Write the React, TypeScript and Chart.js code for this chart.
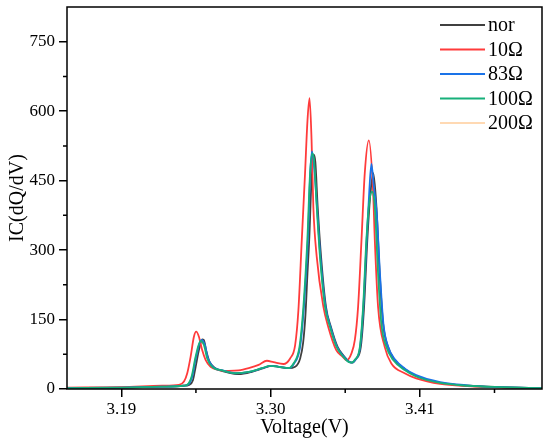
import React, { useEffect, useRef } from "react";
import Chart from "chart.js/auto";

// voltage (V) and IC (dQ/dV), one pair of arrays per curve
const norV = [3.150, 3.190, 3.220, 3.236, 3.2399, 3.2428, 3.2448, 3.2472, 3.2496, 3.2508, 3.2525, 3.2550, 3.2594, 3.2667, 3.2765, 3.2863, 3.2949, 3.3010, 3.3059, 3.3132, 3.3181, 3.3218, 3.3240, 3.3257, 3.3272, 3.3286, 3.3300, 3.3318, 3.3330, 3.3347, 3.3372, 3.3408, 3.3445, 3.3494, 3.3543, 3.3579, 3.3603, 3.3630, 3.3665, 3.3689, 3.3713, 3.3735, 3.3757, 3.3780, 3.3804, 3.3829, 3.3865, 3.3914, 3.3988, 3.4073, 3.4250, 3.4450, 3.4700, 3.5000];
const norIC = [2, 3, 5, 7, 9, 19, 48, 84, 107, 106, 84, 59, 45, 37, 32, 37, 45, 50, 48, 45, 48, 66, 100, 160, 250, 330, 440, 506, 490, 394, 286, 178, 134, 91, 70, 59, 57, 65, 91, 178, 322, 420, 466, 394, 250, 142, 91, 63, 43, 28, 13, 7, 4, 2];

const r10V = [3.150, 3.190, 3.220, 3.2325, 3.2362, 3.2386, 3.2411, 3.2435, 3.2452, 3.2472, 3.2496, 3.2521, 3.2558, 3.2619, 3.2692, 3.2765, 3.2839, 3.2912, 3.2973, 3.3022, 3.3095, 3.3144, 3.3181, 3.3205, 3.3230, 3.3254, 3.3272, 3.3287, 3.3302, 3.3315, 3.3340, 3.3389, 3.3425, 3.3484, 3.3530, 3.3560, 3.3596, 3.3621, 3.3645, 3.3670, 3.3694, 3.3724, 3.3755, 3.3768, 3.3792, 3.3841, 3.3890, 3.3988, 3.4073, 3.4250, 3.4450, 3.4700, 3.5000];
const r10IC = [3, 4, 7, 9, 16, 34, 70, 113, 124, 113, 84, 63, 48, 41, 39, 40, 45, 52, 61, 58, 54, 66, 95, 170, 322, 466, 580, 628, 538, 394, 286, 178, 134, 84, 70, 62, 77, 106, 178, 322, 466, 537, 430, 322, 178, 91, 55, 34, 23, 11, 6, 3, 2];

const r83V = [3.150, 3.190, 3.220, 3.236, 3.2390, 3.2422, 3.2452, 3.2490, 3.2514, 3.2538, 3.2575, 3.2648, 3.2745, 3.2843, 3.2940, 3.3003, 3.3063, 3.3136, 3.3173, 3.3217, 3.3246, 3.3275, 3.3293, 3.3305, 3.3318, 3.3342, 3.3367, 3.3405, 3.3442, 3.3490, 3.3540, 3.3576, 3.3600, 3.3625, 3.3660, 3.3684, 3.3708, 3.3728, 3.3743, 3.3760, 3.3782, 3.3806, 3.3831, 3.3867, 3.3916, 3.3990, 3.4073, 3.4250, 3.4450, 3.4700, 3.5000];
const r83IC = [2, 3, 5, 7, 9, 26, 70, 106, 97, 67, 48, 40, 34, 37, 45, 50, 48, 45, 55, 90, 178, 322, 470, 513, 490, 394, 286, 178, 134, 91, 70, 59, 57, 63, 91, 178, 322, 430, 486, 440, 380, 250, 142, 91, 64, 44, 30, 15, 8, 4, 2];

const r100V = [3.150, 3.190, 3.220, 3.236, 3.2386, 3.2418, 3.2448, 3.2484, 3.2509, 3.2533, 3.2570, 3.2643, 3.2741, 3.2839, 3.2936, 3.2998, 3.3059, 3.3132, 3.3169, 3.3213, 3.3242, 3.3271, 3.3291, 3.3308, 3.3320, 3.3340, 3.3364, 3.3401, 3.3438, 3.3486, 3.3535, 3.3572, 3.3596, 3.3621, 3.3658, 3.3682, 3.3706, 3.3726, 3.3748, 3.3768, 3.3792, 3.3816, 3.3853, 3.3902, 3.3988, 3.4073, 3.4250, 3.4450, 3.4700, 3.5000];
const r100IC = [2, 3, 5, 7, 9, 27, 70, 104, 95, 66, 48, 40, 34, 37, 45, 50, 48, 45, 55, 91, 178, 322, 466, 509, 495, 394, 286, 178, 134, 91, 70, 59, 57, 63, 91, 178, 322, 400, 426, 394, 250, 142, 91, 63, 41, 27, 13, 7, 4, 2];

const r200V = [3.150, 3.190, 3.220, 3.236, 3.2388, 3.2420, 3.2450, 3.2486, 3.2511, 3.2535, 3.2572, 3.2645, 3.2743, 3.2841, 3.2938, 3.3000, 3.3061, 3.3134, 3.3171, 3.3215, 3.3244, 3.3273, 3.3293, 3.3310, 3.3322, 3.3342, 3.3366, 3.3403, 3.3440, 3.3488, 3.3537, 3.3574, 3.3598, 3.3623, 3.3660, 3.3684, 3.3708, 3.3728, 3.3750, 3.3770, 3.3794, 3.3818, 3.3855, 3.3904, 3.3990, 3.4075, 3.4250, 3.4450, 3.4700, 3.5000];
const r200IC = [2, 3, 5, 7, 9, 26, 69, 103, 95, 66, 48, 40, 34, 37, 45, 50, 48, 45, 54, 90, 176, 320, 462, 505, 492, 394, 286, 178, 134, 92, 71, 60, 57, 63, 91, 178, 322, 404, 432, 398, 254, 145, 93, 64, 42, 28, 14, 8, 4, 2];

const seriesNames = ["nor", "10Ω", "83Ω", "100Ω", "200Ω"];
const seriesColors = ["#404040", "#ff3b3b", "#1a73e8", "#17b07a", "#ffd9b3"];
const drawOrder = [4, 3, 2, 1, 5];

const xMajorTicks = [3.19, 3.3, 3.41];
const xMinorTicks = [3.245, 3.355, 3.465];
const yMajorTicks = [0, 150, 300, 450, 600, 750];
const yMinorTicks = [75, 225, 375, 525, 675];

const serif = "'Liberation Serif', 'Times New Roman', serif";

const toPoints = (xs: number[], ys: number[]) => xs.map((x, i) => ({ x, y: ys[i] }));

// plot frame, minor ticks and the in-plot legend
const framePlugin = {
  id: "frame",
  afterDatasetsDraw(chart: any) {
    const { ctx, chartArea: a, scales } = chart;
    ctx.save();
    ctx.strokeStyle = "#000";
    ctx.lineWidth = 1.5;
    ctx.strokeRect(a.left, a.top, a.right - a.left, a.bottom - a.top);

    ctx.beginPath();
    xMinorTicks.forEach((v) => {
      const px = scales.x.getPixelForValue(v);
      ctx.moveTo(px, a.bottom);
      ctx.lineTo(px, a.bottom + 4);
    });
    yMinorTicks.forEach((v) => {
      const py = scales.y.getPixelForValue(v);
      ctx.moveTo(a.left, py);
      ctx.lineTo(a.left - 4, py);
    });
    ctx.stroke();

    ctx.font = `20px ${serif}`;
    ctx.textBaseline = "middle";
    ctx.textAlign = "left";
    chart.data.datasets.forEach((ds: any, i: number) => {
      const y = a.top + 18 + i * 24.5;
      ctx.strokeStyle = ds.borderColor;
      ctx.lineWidth = 2;
      ctx.beginPath();
      ctx.moveTo(a.right - 102, y);
      ctx.lineTo(a.right - 57, y);
      ctx.stroke();
      ctx.fillStyle = "#000";
      ctx.fillText(ds.label, a.right - 54, y + 1);
    });
    ctx.restore();
  },
};

const ICChart: React.FC = () => {
  const canvasRef = useRef<HTMLCanvasElement | null>(null);

  useEffect(() => {
    if (!canvasRef.current) return;
    const ctx = canvasRef.current.getContext("2d");
    if (!ctx) return;

    const xs = [norV, r10V, r83V, r100V, r200V];
    const ys = [norIC, r10IC, r83IC, r100IC, r200IC];

    const chart = new Chart(ctx, {
      type: "line",
      data: {
        datasets: seriesNames.map((name, i) => ({
          label: name,
          data: toPoints(xs[i], ys[i]),
          borderColor: seriesColors[i],
          backgroundColor: seriesColors[i],
          borderWidth: 1.8,
          pointRadius: 0,
          fill: false,
          cubicInterpolationMode: "monotone" as const,
          order: drawOrder[i],
        })),
      },
      options: {
        animation: false,
        responsive: true,
        maintainAspectRatio: false,
        layout: { padding: { top: 7, right: 8, left: 0, bottom: 0 } },
        plugins: {
          legend: { display: false },
          tooltip: { enabled: false },
        },
        scales: {
          x: {
            type: "linear",
            min: 3.15,
            max: 3.5,
            afterBuildTicks: (scale: any) => {
              scale.ticks = xMajorTicks.map((value) => ({ value }));
            },
            afterFit: (scale: any) => {
              scale.height = 54;
              scale.paddingLeft = 0;
              scale.paddingRight = 0;
            },
            ticks: {
              color: "#000",
              font: { family: serif, size: 17 },
              padding: 2,
              maxRotation: 0,
              callback: (v: any) => Number(v).toFixed(2),
            },
            grid: { drawOnChartArea: false, color: "#000", lineWidth: 1.5, tickLength: 8 },
            border: { display: false },
            title: {
              display: true,
              text: "Voltage(V)",
              color: "#000",
              font: { family: serif, size: 20 },
              padding: { top: 3, bottom: 3 },
            },
          },
          y: {
            min: 0,
            max: 825,
            afterBuildTicks: (scale: any) => {
              scale.ticks = yMajorTicks.map((value) => ({ value }));
            },
            afterFit: (scale: any) => {
              scale.width = 67;
              scale.paddingTop = 0;
              scale.paddingBottom = 0;
            },
            ticks: {
              color: "#000",
              font: { family: serif, size: 17 },
              padding: 4,
            },
            grid: { drawOnChartArea: false, color: "#000", lineWidth: 1.5, tickLength: 8 },
            border: { display: false },
            title: {
              display: true,
              text: "IC(dQ/dV)",
              color: "#000",
              font: { family: serif, size: 20 },
              padding: { top: 6, bottom: 0 },
            },
          },
        },
      },
      plugins: [framePlugin],
    });

    return () => {
      chart.destroy();
    };
  }, []);

  return (
    <div style={{ position: "absolute", left: 0, top: 0, width: 550, height: 443, background: "#fff" }}>
      <canvas ref={canvasRef} />
    </div>
  );
};

export default function App() {
  return <ICChart />;
}
